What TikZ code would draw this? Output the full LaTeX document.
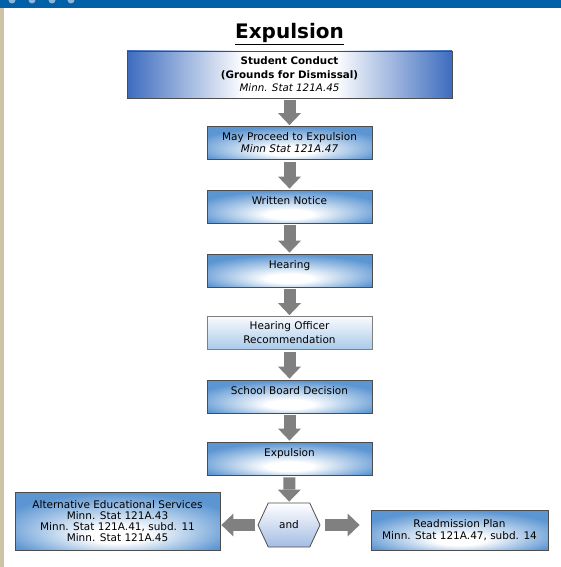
\documentclass[tikz,border=0pt]{standalone}
\usepackage{fontspec}
\setmainfont{DejaVu Sans}
\usepackage{tikz}
\usetikzlibrary{arrows.meta,shapes.symbols}

\definecolor{bandblue}{HTML}{0061A8}
\definecolor{bandlight}{HTML}{8FB3D9}
\definecolor{striptan}{HTML}{CEC3A7}
\definecolor{boxblue}{HTML}{5B95D2}
\definecolor{deepblue}{HTML}{3D6CBF}
\definecolor{paleblue}{HTML}{A9C9E9}
\definecolor{hexblue}{HTML}{A4BCE3}
\definecolor{arrowgray}{HTML}{808080}
\definecolor{framegray}{HTML}{4D4D4D}

% sombreados de las cajas
\pgfdeclareradialshading{boxshade}{\pgfpoint{0bp}{-14bp}}{color(0bp)=(white); color(7bp)=(white); color(30bp)=(boxblue); color(50bp)=(boxblue)}
\pgfdeclarehorizontalshading{wideshade}{100bp}{color(0bp)=(deepblue); color(25bp)=(deepblue); color(43bp)=(white); color(57bp)=(white); color(75bp)=(deepblue); color(100bp)=(deepblue)}

\begin{document}
\begin{tikzpicture}[
    x=1pt, y=-1pt,      % coordenadas en pixeles, y hacia abajo
    font=\fontsize{10.5}{12}\selectfont,
    flowbox/.style={draw=framegray, line width=0.8pt, shade, shading=boxshade,
        minimum width=165pt, minimum height=33pt, inner sep=2pt, align=center},
    raised/.style={text height=7.5pt, text depth=12.5pt},
    lightbox/.style={flowbox, draw=arrowgray, top color=white!92!paleblue, bottom color=paleblue},
    hexbox/.style={draw=framegray, line width=0.8pt, top color=white, bottom color=hexblue,
        signal, signal to=east and west, signal pointer angle=130,
        minimum width=62pt, minimum height=44pt, inner sep=0pt},
    flowarrow/.style={draw=arrowgray, line width=12pt, shorten <=2pt, shorten >=1pt,
        -{Triangle[width=23pt,length=12pt,line width=0pt]}},
]
\useasboundingbox (0,0) rectangle (561,567);

% --- Marco de la diapositiva ---
\fill[bandblue] (0,0) rectangle (561,8.5);
\foreach \x in {12,32,52,71}
    \fill[bandlight] (\x,0) circle (3.5);
\fill[striptan] (0,8.5) rectangle (3.5,567);

% --- Titulo ---
\node[font=\fontsize{20}{24}\selectfont\bfseries, anchor=base] (title) at (289.5,39) {\underline{Expulsion}};

% --- Cajas del proceso ---
\node[flowbox, shading=wideshade, minimum width=325pt, minimum height=47pt,
      font=\fontsize{10.3}{13.5}\selectfont] (conduct) at (289.5,74.5)
    {\textbf{Student Conduct}\\\textbf{(Grounds for Dismissal)}\\\textit{Minn. Stat 121A.45}};
\node[flowbox, font=\fontsize{10.5}{12}\selectfont] (proceed) at (289.5,143)
    {May Proceed to Expulsion\\\textit{Minn Stat 121A.47}};
\node[flowbox, raised] (notice) at (289.5,206.5) {Written Notice};
\node[flowbox, raised] (hearing) at (289.5,270.5) {Hearing};
\node[lightbox, font=\fontsize{10.5}{14}\selectfont] (officer) at (289.5,333)
    {Hearing Officer\\Recommendation};
\node[flowbox, raised] (board) at (289.5,396.5) {School Board Decision};
\node[flowbox, raised] (expel) at (289.5,458.5) {Expulsion};

% --- Bifurcacion final ---
\node[hexbox] (and) at (289,525) {and};
\node[flowbox, minimum width=205pt, minimum height=58pt, font=\fontsize{10.5}{11.2}\selectfont] (alt) at (117.5,521)
    {Alternative Educational Services\\Minn. Stat 121A.43\\Minn. Stat 121A.41, subd. 11\\Minn. Stat 121A.45};
\node[flowbox, minimum width=177pt, minimum height=40pt, font=\fontsize{10.5}{12.3}\selectfont] (readmit) at (459.5,530)
    {Readmission Plan\\Minn. Stat 121A.47, subd. 14};

% --- Flechas ---
\draw[flowarrow] (conduct) -- (proceed);
\draw[flowarrow] (proceed) -- (notice);
\draw[flowarrow] (notice) -- (hearing);
\draw[flowarrow] (hearing) -- (officer);
\draw[flowarrow] (officer) -- (board);
\draw[flowarrow] (board) -- (expel);
\draw[flowarrow] (expel) -- (and);
\draw[flowarrow, shorten <=3pt] (and.west) -- (alt.east |- and.west);
\draw[flowarrow, shorten <=5pt, shorten >=11pt] (and.east) -- (readmit.west |- and.east);

\end{tikzpicture}
\end{document}
